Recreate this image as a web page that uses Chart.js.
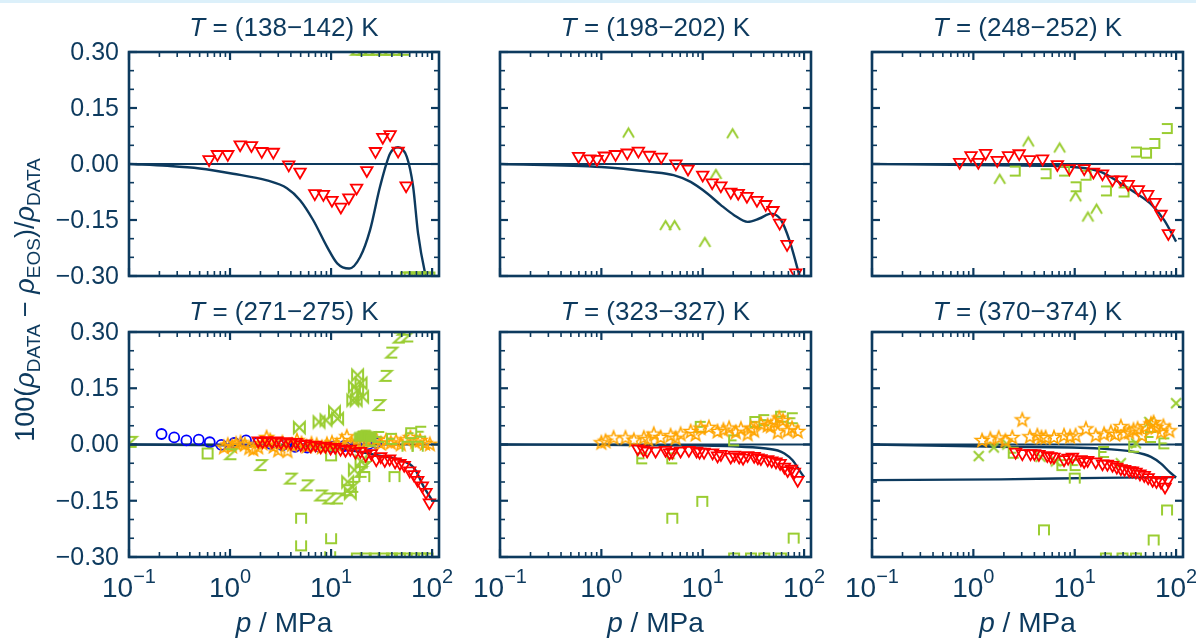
<!DOCTYPE html>
<html><head><meta charset="utf-8">
<script src="https://cdn.jsdelivr.net/npm/chart.js@4.4.0/dist/chart.umd.min.js"></script>
<style>
html,body{margin:0;padding:0;background:#fff;}
#wrap{position:relative;width:1196px;height:639px;overflow:hidden;background:#fff;}
#wrap canvas{position:absolute;left:0;top:0;}
#band{position:absolute;left:0;top:0;width:1196px;height:3px;background:#dcf0fa;}
</style></head><body>
<div id="wrap"><div id="band"></div></div>
<script>
// ---------------- axis / tick data ----------------
const X_MIN = 0.1, X_MAX = 117;
const Y_MIN = -0.30, Y_MAX = 0.30;
const X_MAJOR = [0.1, 1, 10, 100];
const X_TICK_EXP = ['\u22121', '0', '1', '2'];
const X_MINOR = [0.2,0.3,0.4,0.5,0.6,0.7,0.8,0.9,2,3,4,5,6,7,8,9,20,30,40,50,60,70,80,90];
const Y_MAJOR = [-0.30, -0.15, 0.00, 0.15, 0.30];
const Y_TICK_LABELS = ['\u22120.30', '\u22120.15', '0.00', '0.15', '0.30'];
const Y_MINOR = [-0.25,-0.20,-0.10,-0.05,0.05,0.10,0.20,0.25];
const T_RANGES = ['138\u2212142', '198\u2212202', '248\u2212252', '271\u2212275', '323\u2212327', '370\u2212374'];

// ---------------- T = 138-142 K ----------------
const T140_red_p   = [0.62,0.75,0.95,1.26,1.63,2.06,2.68,3.81,4.93,6.90,8.39,10.2,12.5,15.0,17.9,22.6,27.5,32.5,38.4,46.1,55.3];
const T140_red_dev = [0.012,0.026,0.026,0.052,0.050,0.034,0.032,-0.002,-0.021,-0.079,-0.081,-0.097,-0.115,-0.090,-0.064,-0.017,0.034,0.072,0.079,0.035,-0.058];
const T140_zig_p   = [18,21,24,28,33,38,44,52];
const T140_zig_dev = [0.306,0.306,0.306,0.306,0.306,0.306,0.306,0.306];
const T140_cap_p   = [55,60,66,72,79,86,94];
const T140_cap_dev = [-0.304,-0.304,-0.304,-0.304,-0.304,-0.304,-0.304];
const T140_eos_p   = [0.1,0.24,0.5,1.07,2.32,3.66,4.93,6.64,9.13,11.5,15.1,19.4,24.3,30.5,38.4,46,56.2,64.9,72.6,85.3,89];
const T140_eos_dev = [0,-0.005,-0.012,-0.026,-0.044,-0.065,-0.097,-0.15,-0.222,-0.266,-0.28,-0.249,-0.177,-0.061,0.028,0.045,0.019,-0.061,-0.186,-0.293,-0.31];

// ---------------- T = 198-202 K ----------------
const T200_red_p   = [0.596,0.766,0.906,1.07,1.38,1.80,2.32,2.97,3.90,5.44,7.16,10.0,12.4,15.1,18.9,22.4,27.3,34.3,41.8,49.3,57.4,67.9,82.8];
const T200_red_dev = [0.021,0.014,0.013,0.022,0.026,0.030,0.035,0.024,0.019,0.001,-0.013,-0.029,-0.050,-0.058,-0.075,-0.078,-0.086,-0.097,-0.108,-0.124,-0.158,-0.215,-0.291];
const T200_caret_p   = [1.85,19.7,13.5,4.30,5.28,10.5];
const T200_caret_dev = [0.083,0.081,-0.028,-0.165,-0.165,-0.210];
const T200_eos_p   = [0.1,1.0,3.05,5.16,7.6,11.1,15.1,20.4,27.7,36.2,47.1,59.2,71.6,83.4,92];
const T200_eos_dev = [0,-0.008,-0.021,-0.03,-0.048,-0.079,-0.110,-0.137,-0.155,-0.146,-0.133,-0.150,-0.204,-0.266,-0.31];

// ---------------- T = 248-252 K ----------------
const T250_red_p   = [0.733,0.948,1.12,1.32,1.72,2.22,2.83,3.61,4.82,6.74,8.86,12.4,15.3,18.8,23.6,28.5,33.7,42.4,52.5,61.9,71.0,83.9];
const T250_red_dev = [0.005,0.023,0.005,0.029,0.010,0.023,0.028,0.012,0.014,-0.001,-0.012,-0.012,-0.021,-0.026,-0.042,-0.042,-0.054,-0.068,-0.081,-0.102,-0.134,-0.186];
const T250_caret_p   = [3.48,7.10,1.82,13.5,16.4,10.2];
const T250_caret_dev = [0.059,0.043,-0.041,-0.142,-0.121,-0.088];
const T250_brk_p   = [2.56,5.16,7.84,12.8,20.3,30.3,40.2,50.5,61.0,80.9,10.2];
const T250_brk_dev = [-0.019,-0.026,-0.019,-0.030,-0.072,-0.075,0.032,0.029,0.055,0.095,-0.061];
const T250_eos_p   = [0.1,1.0,6.0,9.8,18.1,28.5,38.6,57.8,76.6,100];
const T250_eos_dev = [0,-0.003,-0.005,-0.008,-0.021,-0.052,-0.075,-0.11,-0.151,-0.208];

// ---------------- T = 271-275 K ----------------
const T273_blue_p   = [0.21,0.28,0.37,0.49,0.63,0.82,1.1,1.44,1.9,2.5,3.3,4.4,5.8,7.7,10.2,13.5,17.8,23.5,28];
const T273_blue_dev = [0.028,0.019,0.011,0.013,0.006,-0.001,0.004,0.011,0.005,0.002,-0.002,-0.006,-0.008,-0.007,-0.006,-0.004,-0.002,0.001,0.004];
const T273_red_p   = [1.9,2.1,2.3,2.6,2.9,3.2,3.6,4.0,4.5,5.0,5.6,6.3,7.0,7.9,8.8,9.9,11,12.4,13.9,15.5,17.4,19.5,22,25,28,31,34,38,43,48,53,60,66,72,80,87,94];
const T273_red_dev = [0.010,0.008,0.011,0.008,0.010,0.006,0.008,0.004,0.006,0.000,0.002,-0.003,-0.001,-0.006,-0.004,-0.009,-0.007,-0.012,-0.015,-0.012,-0.020,-0.018,-0.028,-0.024,-0.040,-0.032,-0.042,-0.038,-0.046,-0.050,-0.055,-0.070,-0.080,-0.095,-0.110,-0.127,-0.155];
const T273_orange_p   = [0.87,0.95,1.05,1.15,1.27,1.4,1.55,1.7,1.9,2.1,2.3,2.5,2.7,3.0,3.3,3.7,4.1,4.6,5.1,5.7,6.4,7.2,8.1,9.1,10.2,11.4,12.8,14.3,16,18,20,22.5,25,28,31,35,39,44,49,55,61,68,76,85,95];
const T273_orange_dev = [-0.006,0.0,-0.004,0.003,0.006,0.001,-0.008,-0.012,-0.006,0.004,0.020,0.012,-0.004,-0.014,0.006,-0.016,0.0,0.012,0.004,-0.004,0.003,0.0,-0.006,0.002,0.006,0.0,0.012,0.022,0.004,0.008,0.003,0.012,0.008,0.015,0.004,0.012,0.006,0.010,0.002,0.014,0.020,0.008,0.012,0.004,0.002];
const T273_zig_p   = [0.105,1.02,2.03,4.0,5.8,7.95,9.6,11.6,14.6,16.4,19.8,21.4,30.1,35.1,39.9,47.4,57.4,52];
const T273_zig_dev = [0.007,-0.026,-0.055,-0.091,-0.109,-0.136,-0.144,-0.144,-0.122,-0.113,-0.073,-0.060,0.105,0.183,0.245,0.285,0.288,0.306];
const T273_bow_p   = [4.85,7.6,8.9,10.8,11.6,16.4,17.0,17.7,18.3,19.8,20.5,18.3,14.6,17.0,19.8,15.5];
const T273_bow_dev = [0.045,0.060,0.065,0.087,0.069,0.118,0.154,0.118,0.185,0.163,0.127,0.145,-0.100,-0.068,-0.045,-0.130];
const T273_cap_p   = [5.05,21.3,42.4,57,72,18,22,27,33,40,48,56,66,78,90];
const T273_cap_dev = [-0.198,-0.087,-0.087,-0.006,-0.006,-0.304,-0.304,-0.304,-0.304,-0.304,-0.304,-0.304,-0.304,-0.304,-0.304];
const T273_cup_p   = [5.05,10,9.8];
const T273_cup_dev = [-0.269,-0.25,-0.298];
const T273_sq_p    = [0.6,10];
const T273_sq_dev  = [-0.024,-0.029];
const T273_e_p     = [62,78,30,40,25];
const T273_e_dev   = [0.03,0.034,0.02,0.015,0.01];
const T273_fill_p   = [19,20.5,22,23.5,25];
const T273_fill_dev = [0.02,0.024,0.026,0.022,0.02];
const T273_eos_p   = [0.1,1,5,10,20,30,49.3,66.8,82.8,100];
const T273_eos_dev = [0,-0.002,-0.005,-0.01,-0.02,-0.03,-0.042,-0.064,-0.113,-0.149];

// ---------------- T = 323-327 K ----------------
const T325_orange_p   = [1.0,1.10,1.32,1.73,2.09,2.62,2.9,3.29,3.84,4.82,5.4,6.05,7.6,8.5,9.55,11.5,14,16,18.2,21.2,23.8,27.7,30,32.2,37.5,43.7,47,50.8,54.9,57,62,68.9,76,86.5];
const T325_orange_dev = [0.006,0.010,0.019,0.019,0.013,0.019,0.015,0.029,0.020,0.025,0.018,0.029,0.036,0.028,0.045,0.047,0.036,0.040,0.045,0.034,0.043,0.029,0.045,0.038,0.056,0.052,0.050,0.060,0.034,0.072,0.065,0.038,0.045,0.036];
const T325_red_p   = [2.29,2.6,2.83,3.43,4.30,4.7,5.01,6.05,7.3,8.7,9.3,10.3,12.5,14,15.1,18.9,20.5,22.9,25,27.7,32.2,35,37.5,43.7,48,52.8,58,63.9,68.9,75,80.2,86.5];
const T325_red_dev = [-0.011,-0.014,-0.017,-0.017,-0.015,-0.022,-0.020,-0.017,-0.015,-0.017,-0.020,-0.020,-0.022,-0.030,-0.026,-0.033,-0.028,-0.033,-0.036,-0.029,-0.031,-0.035,-0.037,-0.040,-0.043,-0.046,-0.050,-0.060,-0.069,-0.065,-0.073,-0.095];
const T325_e_p   = [40.5,59.2,77.3,9.55,20.4,2.53,5.01,33];
const T325_e_dev = [0.065,0.074,0.070,0.047,0.011,-0.037,-0.037,0.060];
const T325_cap_p   = [9.9,5.01,78.9,20.4,29.9,40.5,59.2];
const T325_cap_dev = [-0.153,-0.198,-0.251,-0.304,-0.304,-0.304,-0.304];
const T325_eos_p   = [0.1,1,10,20,40,55,64,77,93,100];
const T325_eos_dev = [0,-0.001,-0.003,-0.005,-0.010,-0.016,-0.024,-0.042,-0.075,-0.087];

// ---------------- T = 370-374 K ----------------
const T372_orange_p   = [1.22,1.47,1.78,2.07,2.42,3.04,3.61,4.28,4.7,5.16,6.24,7.84,9,10.2,12.9,16.1,19.5,22.7,25,28.5,31,34.5,38,41.7,46,50.5,56.5,60,63.4,71,75,85.9];
const T372_orange_dev = [0.012,0.016,0.019,0.011,0.020,0.067,0.022,0.025,0.020,0.020,0.020,0.025,0.022,0.025,0.043,0.025,0.029,0.034,0.028,0.049,0.030,0.034,0.040,0.043,0.025,0.049,0.056,0.060,0.047,0.034,0.050,0.038];
const T372_red_p   = [2.61,3.04,3.66,4.0,4.43,5.37,5.8,6.24,7.84,8.6,9.49,11.5,12.4,13.4,16.1,18.8,21,23.6,26,28.5,31,34.5,37,40.2,44,48.5,53,58.7,64,71,77.8,82.8];
const T372_red_dev = [-0.020,-0.024,-0.024,-0.024,-0.026,-0.029,-0.032,-0.033,-0.040,-0.036,-0.033,-0.040,-0.045,-0.042,-0.046,-0.051,-0.052,-0.055,-0.060,-0.064,-0.066,-0.069,-0.070,-0.073,-0.078,-0.082,-0.088,-0.095,-0.098,-0.100,-0.113,-0.095];
const T372_x_p   = [1.13,1.59,2.16,100,40.2,54.5,4.6,6.5,28.5];
const T372_x_dev = [-0.031,-0.008,0.0,0.110,0.003,0.060,-0.033,-0.045,-0.050];
const T372_e_p   = [2.5,7.55,10.2,19.5,38.6,56.5,76.6];
const T372_e_dev = [-0.022,-0.055,-0.055,-0.020,-0.006,0.020,0.003];
const T372_cap_p   = [10,4.97,81.4,60.1,20.3,29.6,40.2];
const T372_cap_dev = [-0.091,-0.229,-0.176,-0.256,-0.304,-0.304,-0.304];
const T372_eosA_p   = [0.1,1.86,18.1,38.6,56.5,71,86,100];
const T372_eosA_dev = [0,-0.006,-0.011,-0.020,-0.033,-0.051,-0.073,-0.088];
const T372_eosB_p   = [0.1,1.86,18.1,100];
const T372_eosB_dev = [-0.095,-0.093,-0.089,-0.087];

// ---------------- styling ----------------
const NAVY = '#0d3a5e', RED = '#ff0000', BLUE = '#0000ff', ORANGE = '#ffa500', GREEN = '#9acd32';
const FONT = '"Liberation Sans", Arial, sans-serif';
const RECTS = [
  {l:129,t:52,r:439,b:276},{l:500,t:52,r:811,b:276},{l:872,t:52,r:1183,b:276},
  {l:129,t:332,r:439,b:557},{l:500,t:332,r:811,b:557},{l:872,t:332,r:1183,b:557}
];

function marker(shape, color, w, h, lw) {
  const pad = Math.ceil(lw) + 1;
  const c = document.createElement('canvas');
  c.width = Math.round(w + 2 * pad); c.height = Math.round(h + 2 * pad);
  const g = c.getContext('2d');
  g.translate(c.width / 2, c.height / 2);
  g.strokeStyle = color; g.fillStyle = color; g.lineWidth = lw; g.lineJoin = 'miter'; g.lineCap = 'butt';
  const a = w / 2, b = h / 2;
  g.beginPath();
  if (shape === 'caret') { g.moveTo(-a, b); g.lineTo(0, -b); g.lineTo(a, b); }
  else if (shape === 'brk') { g.moveTo(-a, -b); g.lineTo(a, -b); g.lineTo(a, b); g.lineTo(-a, b); }
  else if (shape === 'cap') { g.moveTo(-a, b); g.lineTo(-a, -b); g.lineTo(a, -b); g.lineTo(a, b); }
  else if (shape === 'cup') { g.moveTo(-a, -b); g.lineTo(-a, b); g.lineTo(a, b); g.lineTo(a, -b); }
  else if (shape === 'sq') { g.rect(-a, -b, w, h); }
  else if (shape === 'zig') { g.moveTo(-a, -b); g.lineTo(a, -b); g.lineTo(-a, b); g.lineTo(a, b); }
  else if (shape === 'bow') { g.moveTo(-a, -b); g.lineTo(-a, b); g.lineTo(a, -b); g.lineTo(a, b); g.closePath(); }
  else if (shape === 'e') { g.moveTo(a, -b); g.lineTo(-a, -b); g.lineTo(-a, b); g.lineTo(a, b); g.moveTo(-a, 0); g.lineTo(a * 0.5, 0); }
  else if (shape === 'x') { g.moveTo(-a, -b); g.lineTo(a, b); g.moveTo(-a, b); g.lineTo(a, -b); }
  else if (shape === 'fill') { g.rect(-a, -b, w, h); g.fill(); }
  else if (shape === 'star') {
    for (let i = 0; i < 10; i++) {
      const r = i % 2 === 0 ? a : a * 0.42;
      const ang = -Math.PI / 2 + i * Math.PI / 5;
      const px = r * Math.cos(ang), py = r * Math.sin(ang) + a * 0.1;
      if (i === 0) g.moveTo(px, py); else g.lineTo(px, py);
    }
    g.closePath();
  }
  g.stroke();
  return c;
}
const GLW = 2;
const M = {
  caret: marker('caret', GREEN, 11, 9, GLW),
  brk: marker('brk', GREEN, 10, 9, GLW),
  cap: marker('cap', GREEN, 10, 10, GLW),
  cup: marker('cup', GREEN, 10, 10, GLW),
  sq: marker('sq', GREEN, 10, 10, GLW),
  zig: marker('zig', GREEN, 11, 10, GLW),
  bow: marker('bow', GREEN, 11, 11, GLW),
  e: marker('e', GREEN, 10, 10, GLW),
  x: marker('x', GREEN, 10, 10, GLW),
  fill: marker('fill', GREEN, 10, 9, 1),
  star: marker('star', ORANGE, 14, 14, 1.6)
};

const pts = (p, d) => p.map((v, i) => ({x: v, y: d[i]}));
const curve = (p, d) => ({data: pts(p, d), showLine: true, borderColor: NAVY, borderWidth: 2.4, pointRadius: 0, cubicInterpolationMode: 'monotone', fill: false, clip: 0, order: 10});
const zero = () => ({data: [{x: X_MIN, y: 0}, {x: X_MAX, y: 0}], showLine: true, borderColor: NAVY, borderWidth: 2.2, pointRadius: 0, fill: false, clip: 0, order: 11});
const img = (p, d, m, order) => ({data: pts(p, d), showLine: false, pointStyle: m, pointRadius: 5, clip: 0, order: order});
const tri = (p, d) => ({data: pts(p, d), showLine: false, pointStyle: 'triangle', rotation: 180, pointRadius: 6.6, borderColor: RED, backgroundColor: 'rgba(0,0,0,0)', borderWidth: 1.8, clip: 0, order: 2});
const circ = (p, d) => ({data: pts(p, d), showLine: false, pointStyle: 'circle', pointRadius: 5, borderColor: BLUE, backgroundColor: 'rgba(0,0,0,0)', borderWidth: 1.8, clip: 0, order: 4});

const PANELS = [
  [zero(), curve(T140_eos_p, T140_eos_dev), tri(T140_red_p, T140_red_dev), img(T140_zig_p, T140_zig_dev, M.zig, 3), img(T140_cap_p, T140_cap_dev, M.cap, 3)],
  [zero(), curve(T200_eos_p, T200_eos_dev), tri(T200_red_p, T200_red_dev), img(T200_caret_p, T200_caret_dev, M.caret, 3)],
  [zero(), curve(T250_eos_p, T250_eos_dev), tri(T250_red_p, T250_red_dev), img(T250_caret_p, T250_caret_dev, M.caret, 3), img(T250_brk_p, T250_brk_dev, M.brk, 3)],
  [zero(), curve(T273_eos_p, T273_eos_dev), img(T273_zig_p, T273_zig_dev, M.zig, 3), img(T273_bow_p, T273_bow_dev, M.bow, 3),
   img(T273_cap_p, T273_cap_dev, M.cap, 3), img(T273_cup_p, T273_cup_dev, M.cup, 3), img(T273_sq_p, T273_sq_dev, M.sq, 3),
   img(T273_e_p, T273_e_dev, M.e, 3), img(T273_fill_p, T273_fill_dev, M.fill, 3),
   circ(T273_blue_p, T273_blue_dev), img(T273_orange_p, T273_orange_dev, M.star, 3.5), tri(T273_red_p, T273_red_dev)],
  [zero(), curve(T325_eos_p, T325_eos_dev), img(T325_e_p, T325_e_dev, M.e, 3), img(T325_cap_p, T325_cap_dev, M.cap, 3),
   img(T325_orange_p, T325_orange_dev, M.star, 2.5), tri(T325_red_p, T325_red_dev)],
  [zero(), curve(T372_eosA_p, T372_eosA_dev), curve(T372_eosB_p, T372_eosB_dev), img(T372_x_p, T372_x_dev, M.x, 3),
   img(T372_e_p, T372_e_dev, M.e, 3), img(T372_cap_p, T372_cap_dev, M.cap, 3),
   img(T372_orange_p, T372_orange_dev, M.star, 2.5), tri(T372_red_p, T372_red_dev)]
];

function drawRich(ctx, segs, x, y, align) {
  let total = 0;
  for (const s of segs) { ctx.font = s.f; s.w = ctx.measureText(s.t).width; total += s.w + (s.gap || 0); }
  let cx = align === 'center' ? x - total / 2 : align === 'right' ? x - total : x;
  for (const s of segs) { ctx.font = s.f; ctx.fillText(s.t, cx, y + (s.dy || 0)); cx += s.w + (s.gap || 0); }
}
function seg(ctx, x1, y1, x2, y2) { ctx.beginPath(); ctx.moveTo(x1, y1); ctx.lineTo(x2, y2); ctx.stroke(); }

const deco = {
  id: 'deco',
  afterDraw(chart, args, o) {
    const {ctx, chartArea: a} = chart;
    const xs = chart.scales.x, ys = chart.scales.y;
    const idx = o.idx;
    ctx.save();
    ctx.strokeStyle = NAVY; ctx.fillStyle = NAVY;
    // minor ticks
    ctx.lineWidth = 1.6;
    for (const v of X_MINOR) { const px = xs.getPixelForValue(v); if (px <= a.left || px >= a.right) continue; seg(ctx, px, a.bottom, px, a.bottom - 5); seg(ctx, px, a.top, px, a.top + 5); }
    for (const v of Y_MINOR) { const py = ys.getPixelForValue(v); seg(ctx, a.left, py, a.left + 5, py); seg(ctx, a.right, py, a.right - 5, py); }
    // major ticks
    ctx.lineWidth = 2.2;
    for (const v of X_MAJOR) { const px = xs.getPixelForValue(v); seg(ctx, px, a.bottom, px, a.bottom - 8); seg(ctx, px, a.top, px, a.top + 8); }
    for (const v of Y_MAJOR) { const py = ys.getPixelForValue(v); seg(ctx, a.left, py, a.left + 8, py); seg(ctx, a.right, py, a.right - 8, py); }
    // frame
    ctx.lineWidth = 2.6;
    ctx.strokeRect(a.left, a.top, a.right - a.left, a.bottom - a.top);
    // title
    ctx.textBaseline = 'alphabetic';
    const ty = idx < 3 ? a.top - 16 : a.top - 12;
    drawRich(ctx, [{t: 'T', f: 'italic 26px ' + FONT}, {t: ' = (' + T_RANGES[idx] + ') K', f: '26px ' + FONT}], (a.left + a.right) / 2, ty, 'center');
    // y tick labels
    if (idx % 3 === 0) {
      ctx.font = '25px ' + FONT; ctx.textAlign = 'right'; ctx.textBaseline = 'middle';
      Y_MAJOR.forEach((v, i) => ctx.fillText(Y_TICK_LABELS[i], a.left - 10, ys.getPixelForValue(v) + 1));
      ctx.textAlign = 'left';
    }
    // x tick labels + x label
    if (idx >= 3) {
      ctx.textBaseline = 'alphabetic';
      X_MAJOR.forEach((v, i) => {
        const px = xs.getPixelForValue(v);
        drawRich(ctx, [{t: '10', f: '28px ' + FONT}, {t: X_TICK_EXP[i], f: '20px ' + FONT, dy: -14}], px, a.bottom + 40, 'center');
      });
      drawRich(ctx, [{t: 'p', f: 'italic 28px ' + FONT}, {t: ' / MPa', f: '28px ' + FONT}], (a.left + a.right) / 2, a.bottom + 75, 'center');
    }
    // shared y label
    if (idx === 0) {
      ctx.save();
      ctx.translate(34, 300);
      ctx.rotate(-Math.PI / 2);
      ctx.textBaseline = 'alphabetic';
      const N = '27px ' + FONT, I = 'italic 27px ' + FONT, S = '19px ' + FONT;
      drawRich(ctx, [
        {t: '100(', f: N}, {t: '\u03c1', f: I}, {t: 'DATA', f: S, dy: 6}, {t: ' \u2212 ', f: N},
        {t: '\u03c1', f: I}, {t: 'EOS', f: S, dy: 6}, {t: ')/', f: N}, {t: '\u03c1', f: I}, {t: 'DATA', f: S, dy: 6}
      ], 0, 0, 'center');
      ctx.restore();
    }
    ctx.restore();
  }
};

const wrap = document.getElementById('wrap');
PANELS.forEach((datasets, idx) => {
  const cv = document.createElement('canvas');
  cv.width = 1196; cv.height = 639;
  cv.style.width = '1196px'; cv.style.height = '639px';
  wrap.appendChild(cv);
  const r = RECTS[idx];
  new Chart(cv, {
    type: 'scatter',
    data: {datasets},
    options: {
      responsive: false, animation: false, devicePixelRatio: 1, events: [],
      layout: {padding: {left: r.l, top: r.t, right: 1196 - r.r, bottom: 639 - r.b}},
      scales: {
        x: {type: 'logarithmic', min: X_MIN, max: X_MAX, display: false},
        y: {type: 'linear', min: Y_MIN, max: Y_MAX, display: false}
      },
      plugins: {legend: {display: false}, tooltip: {enabled: false}, title: {display: false}, deco: {idx}}
    },
    plugins: [deco]
  });
});
</script>
</body></html>
